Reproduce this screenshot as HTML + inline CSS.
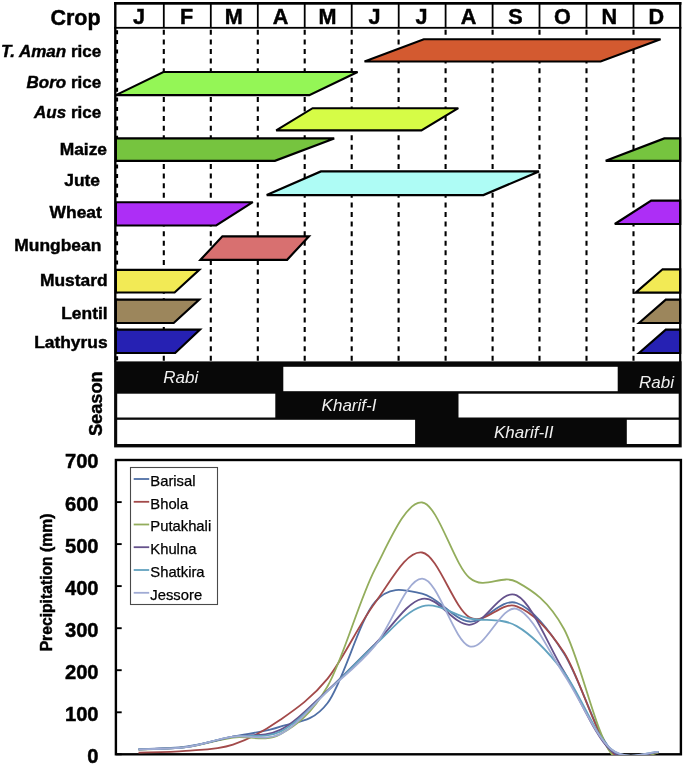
<!DOCTYPE html>
<html><head><meta charset="utf-8"><style>
html,body{margin:0;padding:0;background:#fff;}
svg{display:block;will-change:transform;font-family:"Liberation Sans", sans-serif;}
.b{stroke:#000;stroke-width:0.45px;}
</style></head><body>
<svg width="683" height="764" viewBox="0 0 683 764">
<text x="100.6" y="25" font-size="21.5" font-weight="bold" class="b" text-anchor="end">Crop</text>
<text x="139" y="24" font-size="21.6" font-weight="bold" class="b" text-anchor="middle">J</text>
<text x="186.7" y="24" font-size="21.6" font-weight="bold" class="b" text-anchor="middle">F</text>
<text x="233.7" y="24" font-size="21.6" font-weight="bold" class="b" text-anchor="middle">M</text>
<text x="280.6" y="24" font-size="21.6" font-weight="bold" class="b" text-anchor="middle">A</text>
<text x="327.6" y="24" font-size="21.6" font-weight="bold" class="b" text-anchor="middle">M</text>
<text x="374.6" y="24" font-size="21.6" font-weight="bold" class="b" text-anchor="middle">J</text>
<text x="421.5" y="24" font-size="21.6" font-weight="bold" class="b" text-anchor="middle">J</text>
<text x="468.5" y="24" font-size="21.6" font-weight="bold" class="b" text-anchor="middle">A</text>
<text x="515.4" y="24" font-size="21.6" font-weight="bold" class="b" text-anchor="middle">S</text>
<text x="562.4" y="24" font-size="21.6" font-weight="bold" class="b" text-anchor="middle">O</text>
<text x="609.4" y="24" font-size="21.6" font-weight="bold" class="b" text-anchor="middle">N</text>
<text x="656.2" y="24" font-size="21.6" font-weight="bold" class="b" text-anchor="middle">D</text>
<text x="101.2" y="56.6" font-size="17" font-weight="bold" class="b" text-anchor="end"><tspan font-style="italic">T. Aman</tspan> rice</text>
<text x="101.2" y="88.2" font-size="17" font-weight="bold" class="b" text-anchor="end"><tspan font-style="italic">Boro</tspan> rice</text>
<text x="101.2" y="118.4" font-size="17" font-weight="bold" class="b" text-anchor="end"><tspan font-style="italic">Aus</tspan> rice</text>
<text x="107" y="154.8" font-size="17.4" font-weight="bold" class="b" text-anchor="end">Maize</text>
<text x="100" y="185.6" font-size="17.4" font-weight="bold" class="b" text-anchor="end">Jute</text>
<text x="101.8" y="217.7" font-size="17.4" font-weight="bold" class="b" text-anchor="end">Wheat</text>
<text x="101.3" y="251.2" font-size="17.4" font-weight="bold" class="b" text-anchor="end">Mungbean</text>
<text x="107.6" y="286.1" font-size="17.4" font-weight="bold" class="b" text-anchor="end">Mustard</text>
<text x="107.6" y="318.9" font-size="17.4" font-weight="bold" class="b" text-anchor="end">Lentil</text>
<text x="107.6" y="348.4" font-size="17.4" font-weight="bold" class="b" text-anchor="end">Lathyrus</text>
<line x1="163.8" y1="29.8" x2="163.8" y2="362" stroke="#000" stroke-width="2.1" stroke-dasharray="5 4.588"/>
<line x1="210.8" y1="29.8" x2="210.8" y2="362" stroke="#000" stroke-width="2.1" stroke-dasharray="5 4.588"/>
<line x1="257.8" y1="29.8" x2="257.8" y2="362" stroke="#000" stroke-width="2.1" stroke-dasharray="5 4.588"/>
<line x1="304.7" y1="29.8" x2="304.7" y2="362" stroke="#000" stroke-width="2.1" stroke-dasharray="5 4.588"/>
<line x1="351.7" y1="29.8" x2="351.7" y2="362" stroke="#000" stroke-width="2.1" stroke-dasharray="5 4.588"/>
<line x1="398.6" y1="29.8" x2="398.6" y2="362" stroke="#000" stroke-width="2.1" stroke-dasharray="5 4.588"/>
<line x1="445.6" y1="29.8" x2="445.6" y2="362" stroke="#000" stroke-width="2.1" stroke-dasharray="5 4.588"/>
<line x1="492.6" y1="29.8" x2="492.6" y2="362" stroke="#000" stroke-width="2.1" stroke-dasharray="5 4.588"/>
<line x1="539.5" y1="29.8" x2="539.5" y2="362" stroke="#000" stroke-width="2.1" stroke-dasharray="5 4.588"/>
<line x1="586.5" y1="29.8" x2="586.5" y2="362" stroke="#000" stroke-width="2.1" stroke-dasharray="5 4.588"/>
<line x1="633.5" y1="29.8" x2="633.5" y2="362" stroke="#000" stroke-width="2.1" stroke-dasharray="5 4.588"/>
<line x1="117" y1="30.3" x2="117" y2="362" stroke="#000" stroke-width="2.2" stroke-dasharray="4 5.588"/>
<path d="M364.5,61.5 L423.8,39.2 L660.6,39.2 L600.6,61.5 Z" fill="#d35a30" stroke="#000" stroke-width="2.15" stroke-linejoin="miter" stroke-miterlimit="3"/>
<path d="M115.9,95.1 L163.4,72 L357.6,72 L309.3,95.1 Z" fill="#94f656" stroke="#000" stroke-width="2.15" stroke-linejoin="miter" stroke-miterlimit="3"/>
<path d="M276.2,130.4 L312.6,108.2 L458.3,108.2 L421.4,130.4 Z" fill="#d6fc46" stroke="#000" stroke-width="2.15" stroke-linejoin="miter" stroke-miterlimit="3"/>
<path d="M115.9,160.8 L115.9,138.4 L334.2,138.4 L274.9,160.8 Z" fill="#76c43f" stroke="#000" stroke-width="2.15" stroke-linejoin="miter" stroke-miterlimit="3"/>
<path d="M605.7,160.8 L664.3,138.4 L680.2,138.4 L680.2,160.8 Z" fill="#76c43f" stroke="#000" stroke-width="2.15" stroke-linejoin="miter" stroke-miterlimit="3"/>
<path d="M266.7,195.1 L320.9,171.4 L539,171.4 L483.4,195.1 Z" fill="#aefcf5" stroke="#000" stroke-width="2.15" stroke-linejoin="miter" stroke-miterlimit="3"/>
<path d="M115.9,225.5 L115.9,202.2 L252.8,202.2 L216.2,225.5 Z" fill="#ad2ef6" stroke="#000" stroke-width="2.15" stroke-linejoin="miter" stroke-miterlimit="3"/>
<path d="M614.8,224 L651.2,200.6 L680.2,200.6 L680.2,224 Z" fill="#ad2ef6" stroke="#000" stroke-width="2.15" stroke-linejoin="miter" stroke-miterlimit="3"/>
<path d="M200.5,259.8 L222.4,236.3 L309,236.3 L287.1,259.8 Z" fill="#d87070" stroke="#000" stroke-width="2.15" stroke-linejoin="miter" stroke-miterlimit="3"/>
<path d="M115.9,292.5 L115.9,269.8 L199.3,269.8 L174.6,292.5 Z" fill="#f2ea55" stroke="#000" stroke-width="2.15" stroke-linejoin="miter" stroke-miterlimit="3"/>
<path d="M635.7,292.6 L662.6,269.3 L680.2,269.3 L680.2,292.6 Z" fill="#f2ea55" stroke="#000" stroke-width="2.15" stroke-linejoin="miter" stroke-miterlimit="3"/>
<path d="M115.9,323 L115.9,299.6 L199.3,299.6 L173.7,323 Z" fill="#9c865c" stroke="#000" stroke-width="2.15" stroke-linejoin="miter" stroke-miterlimit="3"/>
<path d="M639,323 L665.8,299.6 L680.2,299.6 L680.2,323 Z" fill="#9c865c" stroke="#000" stroke-width="2.15" stroke-linejoin="miter" stroke-miterlimit="3"/>
<path d="M115.9,353 L115.9,329.6 L200,329.6 L175.2,353 Z" fill="#2621b3" stroke="#000" stroke-width="2.15" stroke-linejoin="miter" stroke-miterlimit="3"/>
<path d="M639,353 L665.8,329.6 L680.2,329.6 L680.2,353 Z" fill="#2621b3" stroke="#000" stroke-width="2.15" stroke-linejoin="miter" stroke-miterlimit="3"/>
<rect x="114" y="2" width="567.4" height="2.7" fill="#000"/>
<rect x="114" y="26.9" width="567.4" height="1.8" fill="#000"/>
<rect x="114.1" y="2" width="2.4" height="360" fill="#000"/>
<rect x="679.1" y="2" width="2.2" height="360" fill="#000"/>
<rect x="162.9" y="3" width="1.8" height="25" fill="#000"/>
<rect x="209.9" y="3" width="1.8" height="25" fill="#000"/>
<rect x="256.9" y="3" width="1.8" height="25" fill="#000"/>
<rect x="303.8" y="3" width="1.8" height="25" fill="#000"/>
<rect x="350.8" y="3" width="1.8" height="25" fill="#000"/>
<rect x="397.8" y="3" width="1.8" height="25" fill="#000"/>
<rect x="444.7" y="3" width="1.8" height="25" fill="#000"/>
<rect x="491.7" y="3" width="1.8" height="25" fill="#000"/>
<rect x="538.6" y="3" width="1.8" height="25" fill="#000"/>
<rect x="585.6" y="3" width="1.8" height="25" fill="#000"/>
<rect x="632.6" y="3" width="1.8" height="25" fill="#000"/>
<rect x="114.1" y="361.4" width="567.6" height="86" fill="#080808"/>
<rect x="283.3" y="366.8" width="334.4" height="24.4" fill="#fff"/>
<rect x="117.2" y="393.7" width="158.1" height="23.8" fill="#fff"/>
<rect x="458.5" y="393.7" width="220.2" height="23.8" fill="#fff"/>
<rect x="117.2" y="419.8" width="297.9" height="24.2" fill="#fff"/>
<rect x="626.8" y="419.8" width="51.9" height="24.2" fill="#fff"/>
<text x="163.3" y="382.7" font-size="17" font-style="italic" fill="#f0f0f0">Rabi</text>
<text x="639" y="388.2" font-size="17" font-style="italic" fill="#f0f0f0">Rabi</text>
<text x="321.6" y="411.2" font-size="17" font-style="italic" fill="#f0f0f0">Kharif-I</text>
<text x="494" y="437.5" font-size="17" font-style="italic" fill="#f0f0f0">Kharif-II</text>
<text transform="translate(102.2,403.7) rotate(-90)" font-size="18.2" font-weight="bold" class="b" text-anchor="middle">Season</text>
<rect x="115.9" y="460" width="565" height="294.3" fill="none" stroke="#000" stroke-width="2.4"/>
<line x1="116" y1="754.3" x2="121.7" y2="754.3" stroke="#000" stroke-width="1.9"/>
<text x="98.6" y="762.7" font-size="20.2" font-weight="bold" class="b" text-anchor="end">0</text>
<line x1="116" y1="712.3" x2="121.7" y2="712.3" stroke="#000" stroke-width="1.9"/>
<text x="98.6" y="720.7" font-size="20.2" font-weight="bold" class="b" text-anchor="end">100</text>
<line x1="116" y1="670.2" x2="121.7" y2="670.2" stroke="#000" stroke-width="1.9"/>
<text x="98.6" y="678.6" font-size="20.2" font-weight="bold" class="b" text-anchor="end">200</text>
<line x1="116" y1="628.2" x2="121.7" y2="628.2" stroke="#000" stroke-width="1.9"/>
<text x="98.6" y="636.6" font-size="20.2" font-weight="bold" class="b" text-anchor="end">300</text>
<line x1="116" y1="586.1" x2="121.7" y2="586.1" stroke="#000" stroke-width="1.9"/>
<text x="98.6" y="594.5" font-size="20.2" font-weight="bold" class="b" text-anchor="end">400</text>
<line x1="116" y1="544.1" x2="121.7" y2="544.1" stroke="#000" stroke-width="1.9"/>
<text x="98.6" y="552.5" font-size="20.2" font-weight="bold" class="b" text-anchor="end">500</text>
<line x1="116" y1="502.1" x2="121.7" y2="502.1" stroke="#000" stroke-width="1.9"/>
<text x="98.6" y="510.5" font-size="20.2" font-weight="bold" class="b" text-anchor="end">600</text>
<line x1="116" y1="460" x2="121.7" y2="460" stroke="#000" stroke-width="1.9"/>
<text x="98.6" y="468.4" font-size="20.2" font-weight="bold" class="b" text-anchor="end">700</text>
<text transform="translate(52,582.5) rotate(-90)" font-size="15.7" font-weight="bold" class="b" text-anchor="middle">Precipitation (mm)</text>
<clipPath id="pc"><rect x="117" y="461" width="563" height="294"/></clipPath>
<g clip-path="url(#pc)">
<path d="M138.5,749.3 C146.4,748.8 170,748.8 185.8,746.7 C201.5,744.6 217.3,740 233,736.6 C248.8,733.3 264.6,732.2 280.3,726.6 C296.1,720.9 311.8,723.8 327.6,703 C343.3,682.3 359.1,620.3 374.9,602.1 C390.6,584 406.4,590.5 422.1,593.7 C437.9,596.9 453.7,619.9 469.4,621.5 C485.2,623 500.9,597.6 516.7,603 C532.4,608.3 548.2,628.9 564,653.4 C579.7,677.9 595.5,733.6 611.2,750.1 C627,766.6 650.6,751.8 658.5,752.2" fill="none" stroke="#4f6fa5" stroke-width="1.8"/>
<path d="M138.5,752.6 C146.4,752.3 170,752.3 185.8,750.9 C201.5,749.6 217.3,749.8 233,744.6 C248.8,739.4 264.6,730.8 280.3,719.8 C296.1,708.8 311.8,698.1 327.6,678.6 C343.3,659.1 359.1,624 374.9,603 C390.6,581.9 406.4,550.1 422.1,552.5 C437.9,554.9 453.7,608.3 469.4,617.2 C485.2,626.2 500.9,600.4 516.7,606.3 C532.4,612.2 548.2,628.3 564,652.6 C579.7,676.9 595.5,735.5 611.2,752.2 C627,768.9 650.6,752.5 658.5,752.6" fill="none" stroke="#a34a4a" stroke-width="1.8"/>
<path d="M138.5,749.7 C146.4,749.3 170,749.2 185.8,747.2 C201.5,745.1 217.3,739.7 233,737.5 C248.8,735.3 264.6,742.7 280.3,734.1 C296.1,725.6 311.8,713.7 327.6,686.2 C343.3,658.7 359.1,599.9 374.9,569.3 C390.6,538.7 406.4,501.1 422.1,502.5 C437.9,503.9 453.7,564.5 469.4,577.7 C485.2,591 500.9,573.4 516.7,581.9 C532.4,590.5 548.2,600.4 564,629 C579.7,657.6 595.5,732.9 611.2,753.5 C625.6,772.2 650.6,752.8 658.5,752.6" fill="none" stroke="#93ad5c" stroke-width="1.8"/>
<path d="M138.5,749.3 C146.4,748.9 170,749.3 185.8,747.2 C201.5,745.1 217.3,739.5 233,736.6 C248.8,733.8 264.6,737.6 280.3,729.9 C296.1,722.2 311.8,704.7 327.6,690.4 C343.3,676.1 359.1,659.4 374.9,644.2 C390.6,628.9 406.4,602 422.1,598.8 C437.9,595.5 453.7,625.4 469.4,624.8 C485.2,624.3 500.9,587.6 516.7,595.4 C532.4,603.2 548.2,645.6 564,671.5 C579.7,697.4 595.5,737.5 611.2,750.9 C627,764.4 650.6,752 658.5,752.2" fill="none" stroke="#65528c" stroke-width="1.8"/>
<path d="M138.5,749.3 C146.4,748.9 170,749.3 185.8,747.2 C201.5,745.1 217.3,739.2 233,736.6 C248.8,734.1 264.6,739.2 280.3,731.6 C296.1,724 311.8,705.7 327.6,691.2 C343.3,676.8 359.1,659.1 374.9,645 C390.6,630.8 406.4,610.7 422.1,606.3 C437.9,601.9 453.7,615.2 469.4,618.5 C485.2,621.8 500.9,617.1 516.7,626.1 C532.4,635 548.2,651.8 564,672.3 C579.7,692.9 595.5,736 611.2,749.3 C627,762.5 650.6,751.4 658.5,751.8" fill="none" stroke="#62a2bf" stroke-width="1.8"/>
<path d="M138.5,749.3 C146.4,748.9 170,749.3 185.8,747.2 C201.5,745.1 217.3,738.8 233,736.6 C248.8,734.5 264.6,741.7 280.3,734.1 C296.1,726.6 311.8,706 327.6,691.2 C343.3,676.5 359.1,664.6 374.9,645.8 C390.6,627.1 406.4,578.5 422.1,578.6 C437.9,578.6 453.7,641.2 469.4,646.3 C485.2,651.3 500.9,604.1 516.7,608.8 C532.4,613.5 548.2,651 564,674.4 C579.7,697.8 595.5,736.4 611.2,749.3 C627,762.1 650.6,751.4 658.5,751.8" fill="none" stroke="#a0abd4" stroke-width="1.8"/>
</g>
<rect x="130.5" y="467.5" width="87" height="137" fill="#fff" stroke="#4a4a4a" stroke-width="1.1"/>
<line x1="133.7" y1="479" x2="149.2" y2="479" stroke="#4f6fa5" stroke-width="1.8"/>
<text x="150.3" y="485.8" font-size="14.8" stroke="#000" stroke-width="0.25">Barisal</text>
<line x1="133.7" y1="501.8" x2="149.2" y2="501.8" stroke="#a34a4a" stroke-width="1.8"/>
<text x="150.3" y="508.6" font-size="14.8" stroke="#000" stroke-width="0.25">Bhola</text>
<line x1="133.7" y1="524.5" x2="149.2" y2="524.5" stroke="#93ad5c" stroke-width="1.8"/>
<text x="150.3" y="531.3" font-size="14.8" stroke="#000" stroke-width="0.25">Putakhali</text>
<line x1="133.7" y1="547.2" x2="149.2" y2="547.2" stroke="#65528c" stroke-width="1.8"/>
<text x="150.3" y="554" font-size="14.8" stroke="#000" stroke-width="0.25">Khulna</text>
<line x1="133.7" y1="570" x2="149.2" y2="570" stroke="#62a2bf" stroke-width="1.8"/>
<text x="150.3" y="576.8" font-size="14.8" stroke="#000" stroke-width="0.25">Shatkira</text>
<line x1="133.7" y1="592.8" x2="149.2" y2="592.8" stroke="#a0abd4" stroke-width="1.8"/>
<text x="150.3" y="599.5" font-size="14.8" stroke="#000" stroke-width="0.25">Jessore</text>
</svg>
</body></html>
